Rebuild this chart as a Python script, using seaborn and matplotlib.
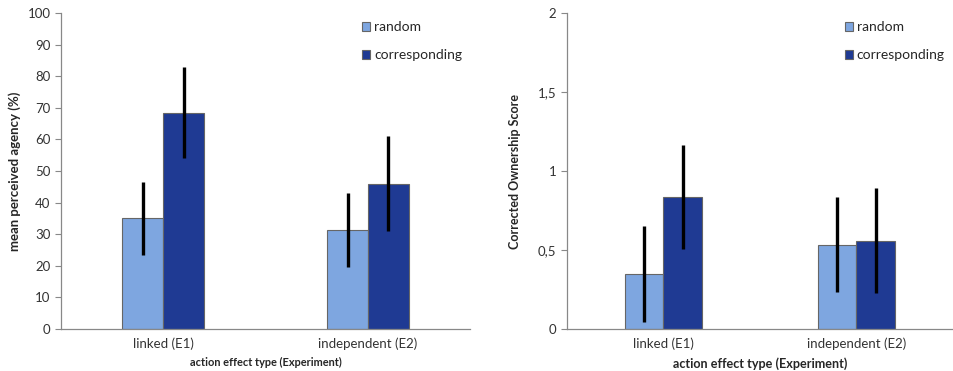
import numpy as np
import pandas as pd
import seaborn as sns
import matplotlib.pyplot as plt

types = ["linked (E1)", "independent (E2)"]
conds = ["random", "corresponding"]

agency_random = [35.0, 31.3]
agency_corr = [68.5, 46.0]
agency_random_err = [11.5, 11.8]
agency_corr_err = [14.5, 15.0]

own_random = [0.35, 0.535]
own_corr = [0.835, 0.56]
own_random_err = [0.305, 0.30]
own_corr_err = [0.33, 0.33]

colors = ["#7ea6e0", "#1f3a93"]

sns.set_theme(style="white")
plt.rcParams["font.family"] = ["Lato", "DejaVu Sans"]


def make_df(r, c, re, ce):
    rows = []
    for i, t in enumerate(types):
        rows.append({"type": t, "cond": "random", "val": r[i], "err": re[i]})
        rows.append({"type": t, "cond": "corresponding", "val": c[i], "err": ce[i]})
    return pd.DataFrame(rows)


def panel(ax, df, ylabel, yticks, ylabels, ylab_size, xlab_size):
    sns.barplot(data=df, x="type", y="val", hue="cond", hue_order=conds,
                palette=colors, saturation=1, width=0.4, edgecolor="#666666",
                linewidth=0.8, errorbar=None, ax=ax, zorder=2)
    # error bars at the bar centres
    for k, cond in enumerate(conds):
        cont = ax.containers[k]
        sub = df[df["cond"] == cond]
        xs = [p.get_x() + p.get_width() / 2 for p in cont.patches]
        ax.errorbar(xs, sub["val"], yerr=sub["err"], fmt="none",
                    ecolor="black", elinewidth=2.4, capsize=0, zorder=3)
    ax.set_xlim(-0.5, 1.5)
    ax.set_ylim(yticks[0], yticks[-1])
    ax.set_yticks(yticks)
    ax.set_yticklabels(ylabels, fontsize=9.5, color="#333333")
    ax.tick_params(axis="x", labelsize=9.5, colors="#333333", length=0, pad=6)
    ax.tick_params(axis="y", length=4, width=0.8, color="#888888", left=True)
    ax.set_ylabel(ylabel, fontsize=ylab_size, fontweight="bold")
    ax.set_xlabel("action effect type (Experiment)", fontsize=xlab_size,
                  fontweight="bold", labelpad=5)
    for s in ["top", "right"]:
        ax.spines[s].set_visible(False)
    for s in ["left", "bottom"]:
        ax.spines[s].set_color("#888888")
        ax.spines[s].set_linewidth(0.9)
    ax.legend(loc="upper right", bbox_to_anchor=(1.0, 1.0), frameon=False,
              fontsize=10, labelspacing=1.15, handlelength=0.55,
              handleheight=0.6, handletextpad=0.3, borderaxespad=0.2)


fig = plt.figure(figsize=(9.54, 3.71), dpi=100)
ax1 = fig.add_axes([0.064, 0.113, 0.429, 0.852])
ax2 = fig.add_axes([0.594, 0.113, 0.405, 0.852])

df1 = make_df(agency_random, agency_corr, agency_random_err, agency_corr_err)
df2 = make_df(own_random, own_corr, own_random_err, own_corr_err)

panel(ax1, df1, "mean perceived agency (%)", list(range(0, 101, 10)),
      [str(v) for v in range(0, 101, 10)], 9.5, 7.9)
panel(ax2, df2, "Corrected Ownership Score", [0, 0.5, 1, 1.5, 2],
      ["0", "0,5", "1", "1,5", "2"], 9.0, 9.1)
ax1.yaxis.labelpad = 5
ax2.yaxis.labelpad = 12

fig.savefig("out.png", dpi=100)
